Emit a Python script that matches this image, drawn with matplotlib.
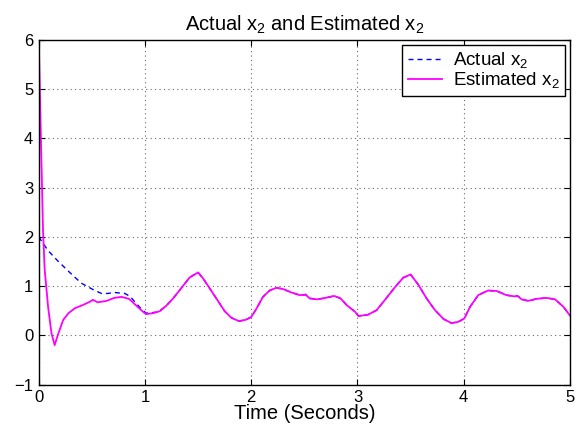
import matplotlib
matplotlib.use("Agg")
import matplotlib.pyplot as plt

plt.rcParams['font.family'] = ['Liberation Sans', 'DejaVu Sans']
plt.rcParams['mathtext.fontset'] = 'custom'
plt.rcParams['mathtext.rm'] = 'Liberation Sans'
plt.rcParams['mathtext.it'] = 'Liberation Sans'

# Actual x2 (early part, before it merges with the estimate)
t_act = [0.0, 0.088, 0.18, 0.28, 0.40, 0.51, 0.59, 0.65, 0.71, 0.81, 0.86, 0.90, 0.95,
         1.01, 1.06, 1.11, 1.16]
v_act = [2.0, 1.72, 1.51, 1.30, 1.06, 0.93, 0.85, 0.85, 0.87, 0.85, 0.79, 0.69, 0.57,
         0.45, 0.46, 0.47, 0.53]

# Estimated x2 (early part, transient)
t_est = [0.0, 0.02, 0.04, 0.056, 0.088, 0.12, 0.15, 0.18, 0.23, 0.28, 0.34, 0.42, 0.48,
         0.51, 0.555, 0.64, 0.71, 0.78, 0.85, 0.93, 0.97, 1.01, 1.077, 1.14]
v_est = [6.0, 4.05, 2.14, 1.33, 0.58, 0.04, -0.20, 0.01, 0.31, 0.45, 0.55, 0.62, 0.68,
         0.72, 0.67, 0.70, 0.76, 0.78, 0.74, 0.58, 0.50, 0.43, 0.45, 0.49]

# Shared trajectory once the estimate has converged
t_common = [1.20, 1.265, 1.344, 1.42, 1.50, 1.547, 1.61, 1.688, 1.75, 1.813, 1.885, 1.948,
            2.0, 2.05, 2.11, 2.173, 2.236, 2.30, 2.378, 2.456, 2.50, 2.51, 2.55, 2.62, 2.70,
            2.78, 2.84, 2.90, 2.976, 3.01, 3.10, 3.18, 3.257, 3.35, 3.43, 3.50, 3.572, 3.65,
            3.73, 3.81, 3.886, 3.95, 4.005, 4.06, 4.137, 4.23, 4.31, 4.40, 4.48, 4.507, 4.545,
            4.607, 4.686, 4.78, 4.86, 4.938, 5.0]
v_common = [0.60, 0.75, 0.965, 1.175, 1.277, 1.155, 0.95, 0.695, 0.49, 0.356, 0.288, 0.315,
            0.37, 0.545, 0.78, 0.91, 0.965, 0.94, 0.87, 0.817, 0.82, 0.83, 0.75, 0.73, 0.76,
            0.80, 0.75, 0.61, 0.48, 0.39, 0.42, 0.51, 0.715, 0.97, 1.17, 1.236, 1.03, 0.75,
            0.51, 0.33, 0.247, 0.275, 0.34, 0.58, 0.817, 0.91, 0.90, 0.817, 0.79, 0.80, 0.73,
            0.70, 0.74, 0.76, 0.73, 0.58, 0.40]

fig = plt.figure(figsize=(5.87, 4.28), dpi=100)
ax = fig.add_axes([0.066, 0.1016, 0.905, 0.805])

ax.plot(t_act + t_common, v_act + v_common, color='blue', linestyle='--', linewidth=1.0,
        dashes=(3.6, 2.9), label='Actual x$_2$')
ax.plot(t_est + t_common, v_est + v_common, color='magenta', linestyle='-', linewidth=1.3,
        label='Estimated x$_2$')

ax.set_xlim(0, 5)
ax.set_ylim(-1, 6)
ax.set_xticks([0, 1, 2, 3, 4, 5])
ax.set_yticks([-1, 0, 1, 2, 3, 4, 5, 6])
ax.tick_params(direction='in', top=True, right=True, labelsize=12, length=4, width=0.8, pad=4)
ax.grid(True, linestyle=(0, (1, 3)), color='#666666', linewidth=0.8)
for s in ax.spines.values():
    s.set_linewidth(1.0)

ax.set_xlabel('Time (Seconds)', fontsize=14.5, labelpad=-1)
ax.set_title('Actual x$_2$ and Estimated x$_2$', fontsize=14.5, pad=7)

leg = ax.legend(loc='upper right', fontsize=13.5, frameon=True, fancybox=False,
                edgecolor='black', framealpha=1, borderpad=0.3, labelspacing=0.0,
                handlelength=1.8, handletextpad=0.6, borderaxespad=0.25)
leg.get_frame().set_linewidth(1.0)

fig.savefig('out.png', dpi=100)
